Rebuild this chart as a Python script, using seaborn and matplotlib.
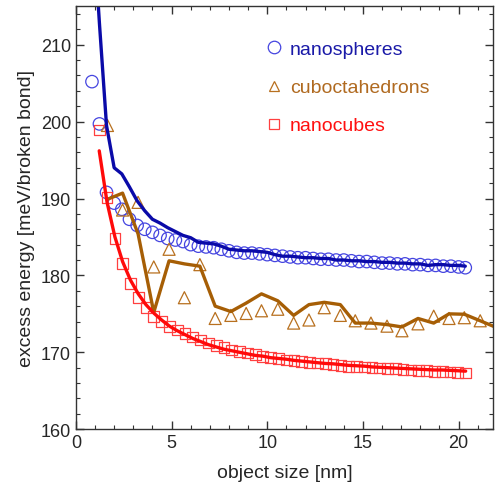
import numpy as np
import pandas as pd
import seaborn as sns
import matplotlib.pyplot as plt
from matplotlib.lines import Line2D
from matplotlib.ticker import MultipleLocator

# nanospheres: simulated points (circles) and model line
sphere_x = [0.84, 1.23, 1.6, 2.0, 2.4, 2.8, 3.2, 3.6, 4.0, 4.4, 4.8, 5.2, 5.6, 6.0, 6.4, 6.8,
            7.2, 7.6, 8.0, 8.4, 8.8, 9.2, 9.6, 10.0, 10.4, 10.8, 11.2, 11.6, 12.0, 12.4, 12.8,
            13.2, 13.6, 14.0, 14.4, 14.8, 15.2, 15.6, 16.0, 16.4, 16.8, 17.2, 17.6, 18.0,
            18.4, 18.8, 19.2, 19.6, 20.0, 20.35]
sphere_pts = [205.2, 199.7, 190.8, 189.4, 188.6, 187.3, 186.5, 186.0, 185.6, 185.2, 184.8,
              184.6, 184.4, 184.0, 183.8, 183.7, 183.6, 183.4, 183.2, 183.0, 182.9, 182.9,
              182.8, 182.7, 182.6, 182.5, 182.4, 182.3, 182.3, 182.2, 182.1, 182.1, 182.0,
              182.0, 181.9, 181.8, 181.8, 181.7, 181.6, 181.6, 181.5, 181.5, 181.4, 181.4,
              181.3, 181.3, 181.2, 181.2, 181.1, 181.0]
sphere_line = [228.0, 212.8, 199.5, 194.0, 193.2, 191.5, 189.7, 188.4, 187.3, 186.8, 186.2,
               185.7, 185.2, 184.9, 184.3, 184.2, 184.1, 183.8, 183.4, 183.3, 183.2, 183.2,
               183.1, 183.0, 182.7, 182.5, 182.5, 182.4, 182.3, 182.3, 182.2, 182.2, 182.0,
               182.0, 181.9, 181.9, 181.8, 181.8, 181.7, 181.7, 181.6, 181.6, 181.5, 181.5,
               181.3, 181.4, 181.4, 181.3, 181.3, 181.2]

# cuboctahedrons
cubo_x = [1.65, 2.44, 3.25, 4.07, 4.87, 5.67, 6.48, 7.28, 8.1, 8.9, 9.7, 10.55, 11.38,
          12.18, 12.98, 13.82, 14.6, 15.42, 16.26, 17.04, 17.88, 18.7, 19.5, 20.3, 21.13, 21.9]
cubo_pts = [199.5, 188.5, 189.5, 181.1, 183.4, 177.1, 181.4, 174.4, 174.8, 175.05, 175.4,
            175.6, 173.8, 174.2, 175.8, 174.8, 174.1, 173.8, 173.4, 172.8, 173.7, 174.7,
            174.4, 174.5, 174.1, np.nan]
cubo_line = [189.9, 190.7, 185.4, 175.2, 181.9, 181.5, 181.2, 176.0, 175.3, 176.4, 177.6,
             176.7, 174.8, 176.2, 176.5, 176.2, 173.8, 173.8, 173.6, 173.3, 174.4, 173.8,
             175.0, 174.95, 174.1, 173.3]

# nanocubes
cube_x = [1.22, 1.63, 2.04, 2.44, 2.85, 3.26, 3.66, 4.07, 4.48, 4.89, 5.30, 5.70, 6.11,
          6.52, 6.92, 7.33, 7.74, 8.15, 8.55, 8.96, 9.37, 9.77, 10.18, 10.59, 11.00, 11.40,
          11.81, 12.22, 12.62, 13.03, 13.44, 13.85, 14.25, 14.66, 15.07, 15.47, 15.88,
          16.29, 16.70, 17.10, 17.51, 17.92, 18.33, 18.73, 19.14, 19.55, 19.96, 20.37]
cube_pts = [198.9, 190.1, 184.8, 181.5, 178.9, 177.1, 175.8, 174.7, 174.0, 173.4, 172.9,
            172.4, 172.0, 171.6, 171.2, 170.9, 170.6, 170.3, 170.1, 169.9, 169.7, 169.5,
            169.3, 169.2, 169.0, 168.9, 168.8, 168.7, 168.6, 168.5, 168.4, 168.3, 168.2,
            168.2, 168.1, 168.0, 167.95, 167.9, 167.85, 167.8, 167.7, 167.65, 167.6, 167.55,
            167.5, 167.45, 167.4, 167.3]
cube_line = [196.2, 189.5, 185.0, 181.8, 179.4, 177.6, 176.2, 175.1, 174.2, 173.4, 172.8,
             172.3, 171.8, 171.4, 171.0, 170.7, 170.4, 170.2, 170.0, 169.8, 169.6, 169.5,
             169.3, 169.2, 169.1, 168.95, 168.85, 168.75, 168.65, 168.55, 168.5, 168.4,
             168.3, 168.25, 168.2, 168.1, 168.05, 168.0, 167.95, 167.9, 167.85, 167.8,
             167.75, 167.7, 167.7, 167.65, 167.6, 167.55]

spheres = pd.DataFrame({'x': sphere_x, 'pts': sphere_pts, 'line': sphere_line})
cubo = pd.DataFrame({'x': cubo_x, 'pts': cubo_pts, 'line': cubo_line})
cubes = pd.DataFrame({'x': cube_x, 'pts': cube_pts, 'line': cube_line})

sns.set_theme(style="ticks")
plt.rcParams['font.family'] = ['Liberation Sans', 'DejaVu Sans']

fig = plt.figure(figsize=(4.96, 4.85), dpi=100)
ax = fig.add_axes([0.153, 0.113, 0.841, 0.872])

c_sph_line, c_sph_pt = '#0a0aa8', '#4545e0'
c_cub_line, c_cub_pt = '#a65e05', '#b8701f'
c_cube_line, c_cube_pt = '#ff0a0a', '#ff4040'

sns.lineplot(data=spheres, x='x', y='line', color=c_sph_line, lw=2.4, ax=ax)
sns.lineplot(data=cubo, x='x', y='line', color=c_cub_line, lw=2.4, ax=ax)
sns.lineplot(data=cubes, x='x', y='line', color=c_cube_line, lw=2.4, ax=ax)

sns.scatterplot(data=spheres, x='x', y='pts', marker='o', s=80, facecolor='none',
                edgecolor=c_sph_pt, linewidth=0.9, ax=ax)
sns.scatterplot(data=cubo, x='x', y='pts', marker='^', s=75, facecolor='none',
                edgecolor=c_cub_pt, linewidth=0.9, ax=ax)
sns.scatterplot(data=cubes, x='x', y='pts', marker='s', s=60, facecolor='none',
                edgecolor=c_cube_pt, linewidth=0.9, ax=ax)

ax.set_xlim(0, 21.8)
ax.set_ylim(160, 215)
ax.xaxis.set_major_locator(MultipleLocator(5))
ax.xaxis.set_minor_locator(MultipleLocator(1))
ax.yaxis.set_major_locator(MultipleLocator(10))
ax.yaxis.set_minor_locator(MultipleLocator(2))
ax.tick_params(which='both', direction='in', top=True, right=True, labelsize=13,
               color='#333333')
ax.tick_params(which='major', length=6, width=1)
ax.tick_params(which='minor', length=3, width=0.8)
for s in ax.spines.values():
    s.set_color('#333333')
    s.set_linewidth(1)

ax.set_xlabel('object size [nm]', fontsize=14, labelpad=9)
ax.set_ylabel('excess energy [meV/broken bond]', fontsize=14, labelpad=4)

handles = [
    Line2D([], [], ls='', marker='o', ms=9, mfc='none', mec=c_sph_pt, mew=0.9),
    Line2D([], [], ls='', marker='^', ms=6.5, mfc='none', mec=c_cub_pt, mew=0.9),
    Line2D([], [], ls='', marker='s', ms=7, mfc='none', mec=c_cube_pt, mew=0.9),
]
leg = ax.legend(handles, ['nanospheres', 'cuboctahedrons', 'nanocubes'],
                loc='upper left', bbox_to_anchor=(0.41, 0.96), frameon=False,
                fontsize=14, handlelength=1.0, handletextpad=0.3, labelspacing=1.05,
                labelcolor=['#1a1aa8', '#b06a20', '#ff1010'])

fig.savefig('out.png', dpi=100)
